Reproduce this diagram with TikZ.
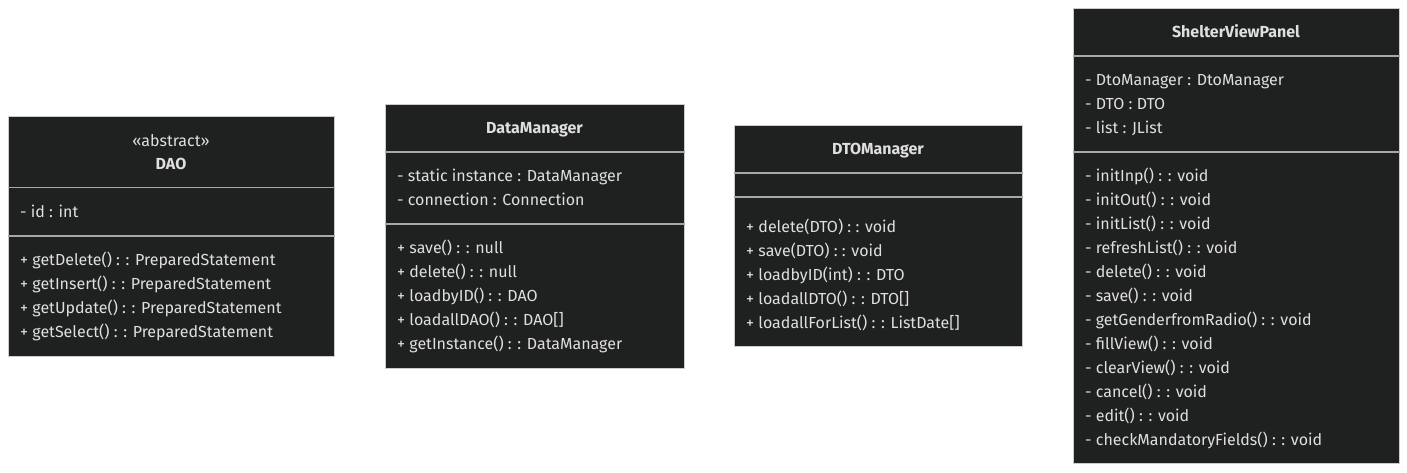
\documentclass[tikz,border=0pt]{standalone}
\usepackage{fontspec}
\setmainfont{Fira Sans}
\usepackage{tikz}

\definecolor{boxfill}{HTML}{1F2020}
\definecolor{boxline}{HTML}{CCCCCC}
\definecolor{divline}{HTML}{A8A8A8}
\definecolor{boxtext}{HTML}{E0DFDF}

\begin{document}
\begin{tikzpicture}[x=1pt, y=-1pt,
    classbox/.style={draw=boxline, line width=1pt, fill=boxfill, anchor=north west, inner sep=0pt},
    divider/.style={draw=divline, line width=1.6pt},
    classname/.style={anchor=base, inner sep=0pt, text=boxtext, font=\fontsize{16}{24}\selectfont\bfseries},
    stereo/.style={anchor=base, inner sep=0pt, text=boxtext, font=\fontsize{16}{24}\selectfont},
    members/.style={anchor=north west, inner sep=0pt, yshift=16.8pt, align=left, text=boxtext, font=\fontsize{16}{24}\selectfont}]
  \useasboundingbox (0,0) rectangle (1407,472);

  % DAO
  \node[classbox, minimum width=326pt, minimum height=240pt] (dao) at (8,116) {};
  \draw[divider] ([yshift=-71.5pt]dao.north west) -- ([yshift=-71.5pt]dao.north east);
  \draw[divider] ([yshift=-120pt]dao.north west) -- ([yshift=-120pt]dao.north east);
  \node[stereo] (daoStereo) at (171,146) {«abstract»};
  \node[classname] (daoName) at (171,169) {DAO};
  \node[members] (daoAttr) at (20,217) {\strut- id : int};
  \node[members] (daoOps) at (20,265) {\strut+ getDelete() : : PreparedStatement\\
    + getInsert() : : PreparedStatement\\
    + getUpdate() : : PreparedStatement\\
    + getSelect() : : PreparedStatement};

  % DataManager
  \node[classbox, minimum width=299pt, minimum height=264pt] (dm) at (385,104) {};
  \draw[divider] ([yshift=-48pt]dm.north west) -- ([yshift=-48pt]dm.north east);
  \draw[divider] ([yshift=-120pt]dm.north west) -- ([yshift=-120pt]dm.north east);
  \node[classname] (dmName) at (534.5,133) {DataManager};
  \node[members] (dmAttr) at (397,181) {\strut- static instance : DataManager\\
    - connection : Connection};
  \node[members] (dmOps) at (397,253) {\strut+ save() : : null\\
    + delete() : : null\\
    + loadbyID() : : DAO\\
    + loadallDAO() : : DAO[]\\
    + getInstance() : : DataManager};

  % DTOManager
  \node[classbox, minimum width=288pt, minimum height=221pt] (dtom) at (734,125) {};
  \draw[divider] ([yshift=-48pt]dtom.north west) -- ([yshift=-48pt]dtom.north east);
  \draw[divider] ([yshift=-72pt]dtom.north west) -- ([yshift=-72pt]dtom.north east);
  \node[classname] (dtomName) at (878,154) {DTOManager};
  \node[members] (dtomOps) at (746,232) {\strut+ delete(DTO) : : void\\
    + save(DTO) : : void\\
    + loadbyID(int) : : DTO\\
    + loadallDTO() : : DTO[]\\
    + loadallForList() : : ListDate[]};

  % ShelterViewPanel
  \node[classbox, minimum width=326pt, minimum height=455pt] (svp) at (1073,8) {};
  \draw[divider] ([yshift=-48pt]svp.north west) -- ([yshift=-48pt]svp.north east);
  \draw[divider] ([yshift=-144pt]svp.north west) -- ([yshift=-144pt]svp.north east);
  \node[classname] (svpName) at (1236,37) {ShelterViewPanel};
  \node[members] (svpAttr) at (1085,85) {\strut- DtoManager : DtoManager\\
    - DTO : DTO\\
    - list : JList};
  \node[members] (svpOps) at (1085,181) {\strut- initInp() : : void\\
    - initOut() : : void\\
    - initList() : : void\\
    - refreshList() : : void\\
    - delete() : : void\\
    - save() : : void\\
    - getGenderfromRadio() : : void\\
    - fillView() : : void\\
    - clearView() : : void\\
    - cancel() : : void\\
    - edit() : : void\\
    - checkMandatoryFields() : : void};
\end{tikzpicture}
\end{document}
